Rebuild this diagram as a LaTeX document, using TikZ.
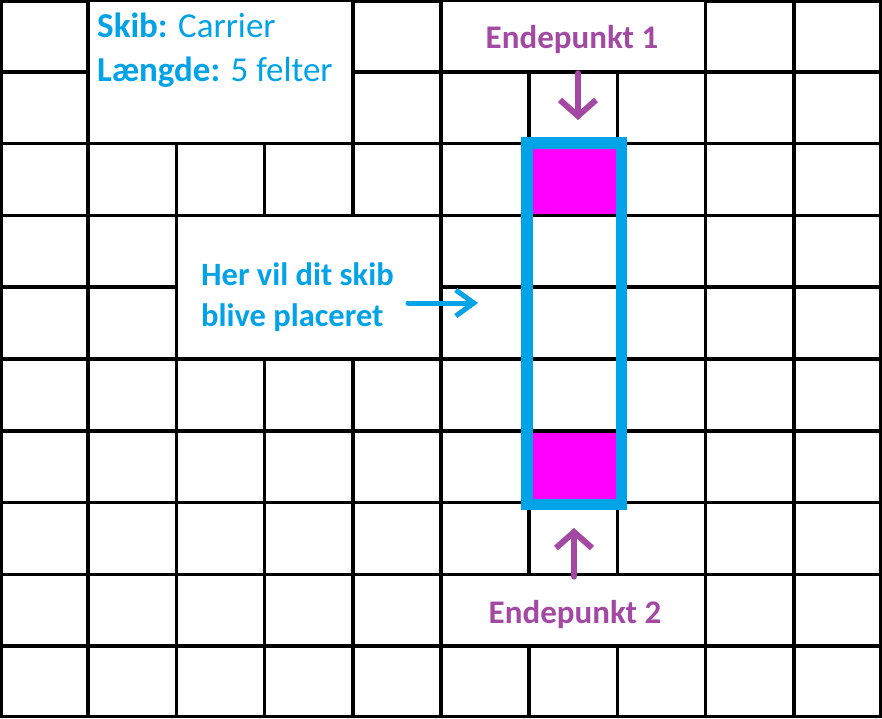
\documentclass[tikz,border=0pt]{standalone}
\usepackage{fontspec}
\setmainfont{Carlito}
\usepackage{xcolor}
\usepackage{tikz}
\usetikzlibrary{arrows.meta}
\definecolor{skibblue}{RGB}{0,162,232}
\definecolor{endepurple}{RGB}{163,73,164}
\definecolor{endemagenta}{RGB}{255,0,255}

\begin{document}
\begin{tikzpicture}[x=88.2pt, y=-71.8pt,
  gridline/.style={black, line width=3.5pt},
  blank/.style={fill=white},
  endcell/.style={fill=endemagenta},
  shipline/.style={skibblue, line width=11.5pt},
  bigtext/.style={inner sep=0pt, font=\fontsize{35}{40}\selectfont},
  boldtext/.style={inner sep=0pt, font=\fontsize{#1}{38}\selectfont\bfseries},
  purplearrow/.style={endepurple, line width=6pt, line cap=round, -{Straight Barb[length=16pt,width=36pt]}},
  bluearrow/.style={skibblue, line width=5pt, line cap=round, -{Straight Barb[length=18pt,width=26pt]}}]
\useasboundingbox (0,0) rectangle (10,10);
\fill[white] (0,0) rectangle (10,10);
% grid
\draw[gridline] (1,0) -- (1,10);
\draw[gridline] (2,0) -- (2,10);
\draw[gridline] (3,0) -- (3,10);
\draw[gridline] (4,0) -- (4,10);
\draw[gridline] (5,0) -- (5,10);
\draw[gridline] (6,0) -- (6,10);
\draw[gridline] (7,0) -- (7,10);
\draw[gridline] (8,0) -- (8,10);
\draw[gridline] (9,0) -- (9,10);
\draw[gridline] (0,1) -- (10,1);
\draw[gridline] (0,2) -- (10,2);
\draw[gridline] (0,3) -- (10,3);
\draw[gridline] (0,4) -- (10,4);
\draw[gridline] (0,5) -- (10,5);
\draw[gridline] (0,6) -- (10,6);
\draw[gridline] (0,7) -- (10,7);
\draw[gridline] (0,8) -- (10,8);
\draw[gridline] (0,9) -- (10,9);
\draw[gridline] ([xshift=1.5pt,yshift=-1.5pt]0,0) rectangle ([xshift=-1.5pt,yshift=1.5pt]10,10);
% white boxes for the texts
\fill[blank] ([xshift=1.75pt,yshift=-1.75pt]1,0) rectangle ([xshift=-1.75pt,yshift=1.75pt]4,2);
\fill[blank] ([xshift=1.75pt,yshift=-1.75pt]5,0) rectangle ([xshift=-1.75pt,yshift=1.75pt]8,1);
\fill[blank] ([xshift=1.75pt,yshift=-1.75pt]2,3) rectangle ([xshift=-1.75pt,yshift=1.75pt]5,5);
\fill[blank] ([xshift=1.75pt,yshift=-1.75pt]5,8) rectangle ([xshift=-1.75pt,yshift=1.75pt]8,9);
% ship
\fill[endcell] ([xshift=1.75pt,yshift=-1.75pt]6,2) rectangle ([xshift=-1.75pt,yshift=1.75pt]7,3);
\fill[endcell] ([xshift=1.75pt,yshift=-1.75pt]6,6) rectangle ([xshift=-1.75pt,yshift=1.75pt]7,7);
\draw[shipline] (5.975,1.99) rectangle (7.046,7.027);
% texts
\node[bigtext, anchor=base west, text=skibblue] (skib) at (1.1,0.529) {\textbf{Skib:} Carrier};
\node[bigtext, anchor=base west, text=skibblue] (laengde) at (1.1,1.142) {\textbf{Længde:} 5 felter};
\node[boldtext=33, anchor=base, text=endepurple] (ende1) at (6.485,0.669) {Endepunkt 1};
\node[boldtext=33, anchor=base, text=endepurple] (ende2) at (6.519,8.677) {Endepunkt 2};
\node[boldtext=32.5, anchor=base west, text=skibblue] (her) at (2.279,3.983) {Her vil dit skib};
\node[boldtext=32.5, anchor=base west, text=skibblue] (placeret) at (2.279,4.554) {blive placeret};
% arrows
\coordinate (ende1tail) at (6.553,1.02);
\coordinate (ende1head) at (6.553,1.671);
\coordinate (ende2tail) at (6.508,8.03);
\coordinate (ende2head) at (6.508,7.354);
\coordinate (hertail) at (4.626,4.22);
\coordinate (herhead) at (5.42,4.22);
\draw[purplearrow] (ende1tail) -- (ende1head);
\draw[purplearrow] (ende2tail) -- (ende2head);
\draw[bluearrow] (hertail) -- (herhead);
\end{tikzpicture}
\end{document}
